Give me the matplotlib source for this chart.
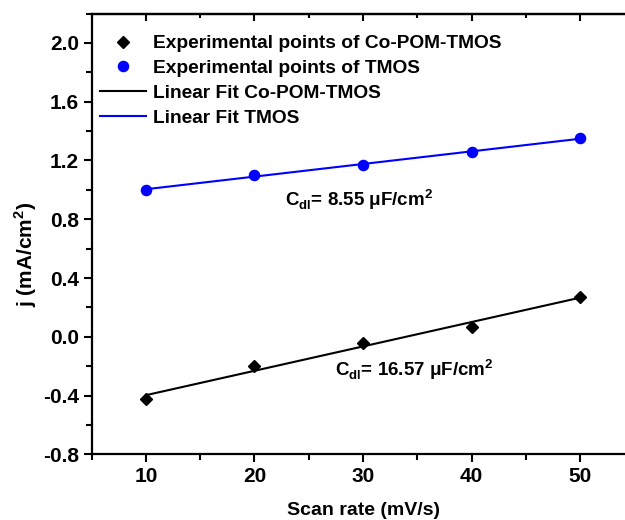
import matplotlib
matplotlib.use("Agg")
import matplotlib.pyplot as plt
import numpy as np
from matplotlib.ticker import MultipleLocator

plt.rcParams['font.family'] = ['Liberation Sans', 'DejaVu Sans']
plt.rcParams['font.weight'] = 'bold'
plt.rcParams['mathtext.default'] = 'bf'

scan_rate = [10, 20, 30, 40, 50]
j_copom = [-0.426, -0.199, -0.041, 0.068, 0.270]
j_tmos = [1.000, 1.100, 1.171, 1.259, 1.350]

fig = plt.figure(figsize=(6.25, 5.2), dpi=100)
ax = fig.add_axes([0.1467, 0.1263, 0.8683, 0.8477])

x = np.array(scan_rate, dtype=float)
p1 = np.polyfit(x, j_copom, 1)
p2 = np.polyfit(x, j_tmos, 1)

ax.plot(x, j_copom, linestyle='none', marker='D', markersize=6.2, color='black',
        label='Experimental points of Co-POM-TMOS')
ax.plot(x, j_tmos, linestyle='none', marker='o', markersize=7.3, color='#0000ff',
        label='Experimental points of TMOS')
ax.plot(x, np.polyval(p1, x), color='black', lw=1.5, label='Linear Fit Co-POM-TMOS')
ax.plot(x, np.polyval(p2, x), color='#0000ff', lw=1.5, label='Linear Fit TMOS')

ax.set_xlim(5, 55)
ax.set_ylim(-0.8, 2.2)
ax.xaxis.set_major_locator(MultipleLocator(10))
ax.xaxis.set_minor_locator(MultipleLocator(5))
ax.set_yticks(np.arange(-0.8, 2.01, 0.4))
ax.set_yticklabels([f"{v:.1f}" for v in np.arange(-0.8, 2.01, 0.4)])
ax.yaxis.set_minor_locator(MultipleLocator(0.2))

for s in ax.spines.values():
    s.set_linewidth(1.6)

ax.tick_params(which='both', direction='out', width=1.5, labelsize=15, pad=3)
ax.tick_params(which='major', length=6)
ax.tick_params(which='minor', length=4)

top = ax.secondary_xaxis('top')
top.xaxis.set_major_locator(MultipleLocator(10))
top.xaxis.set_minor_locator(MultipleLocator(5))
top.tick_params(which='both', direction='in', width=1.5, labeltop=False)
top.tick_params(which='major', length=5)
top.tick_params(which='minor', length=3)
top.spines['top'].set_linewidth(1.6)

ax.set_xlabel('Scan rate (mV/s)', fontsize=14, fontweight='bold', labelpad=12)
ax.set_ylabel(r'j (mA/cm$^{\mathregular{2}}$)', fontsize=15, fontweight='bold')
ax.yaxis.set_label_coords(-0.098, 0.454)

ax.text(22.8, 0.89, r'C$_{\mathregular{dl}}$= 8.55 $\mathregular{\mu}$F/cm$^{\mathregular{2}}$',
        fontsize=13.5, fontweight='bold')
ax.text(27.4, -0.265, r'C$_{\mathregular{dl}}$= 16.57 $\mathregular{\mu}$F/cm$^{\mathregular{2}}$',
        fontsize=13.5, fontweight='bold')

leg = ax.legend(loc='upper left', bbox_to_anchor=(0.001, 0.969), frameon=False,
                fontsize=13.8, handlelength=2.4, handletextpad=0.36,
                labelspacing=0.39, borderaxespad=0.0)
for t in leg.get_texts():
    t.set_fontweight('bold')

fig.savefig('out.png', dpi=100)
